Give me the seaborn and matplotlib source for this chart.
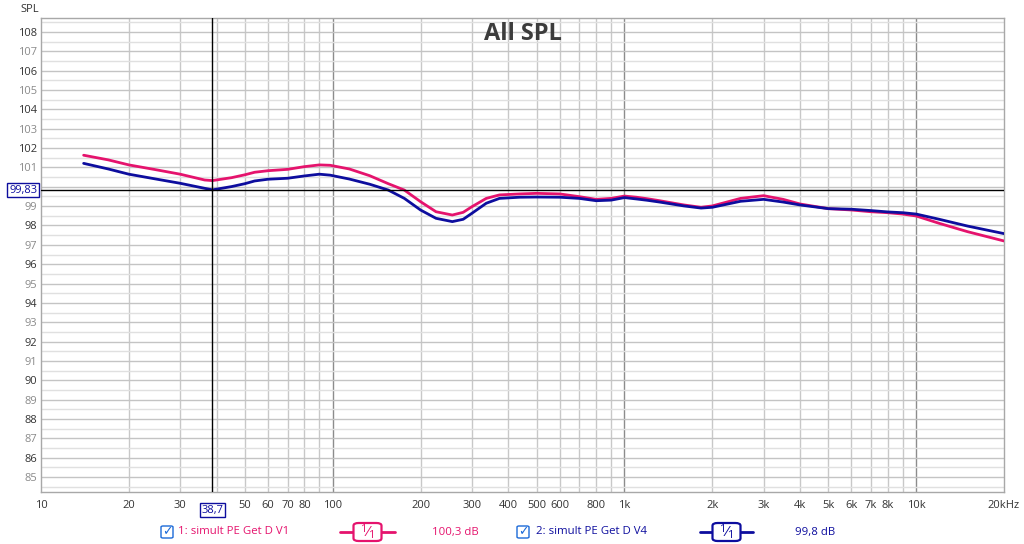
import numpy as np
import pandas as pd
import seaborn as sns
import matplotlib.pyplot as plt
from matplotlib.patches import FancyBboxPatch
from matplotlib.lines import Line2D

# Frequencies (Hz) and SPL readings (dB) for both measurements
freq = [14, 17, 20, 25, 30, 36.4, 38.7, 45, 50, 54, 60, 70, 80, 90, 98, 114, 134,
        155, 176, 200, 226, 257, 280, 300, 336, 373, 437, 500, 600, 700, 800, 900,
        1000, 1100, 1200, 1320, 1600, 1830, 2000, 2500, 3000, 3500, 4000, 5000,
        6000, 7000, 8000, 9000, 10000, 12000, 15000, 20000]
spl_v1 = [101.63, 101.39, 101.13, 100.87, 100.65, 100.35, 100.32, 100.47, 100.62,
          100.75, 100.83, 100.90, 101.04, 101.13, 101.11, 100.92, 100.57, 100.16,
          99.83, 99.23, 98.71, 98.54, 98.68, 98.97, 99.40, 99.58, 99.63, 99.66,
          99.63, 99.49, 99.35, 99.40, 99.52, 99.46, 99.38, 99.28, 99.06, 98.94,
          99.01, 99.40, 99.54, 99.35, 99.11, 98.87, 98.80, 98.71, 98.66, 98.59,
          98.49, 98.11, 97.68, 97.20]
spl_v4 = [101.21, 100.92, 100.65, 100.39, 100.18, 99.92, 99.84, 100.01, 100.16,
          100.30, 100.39, 100.44, 100.56, 100.65, 100.60, 100.40, 100.13, 99.83,
          99.40, 98.80, 98.37, 98.20, 98.32, 98.63, 99.15, 99.40, 99.46, 99.47,
          99.46, 99.40, 99.28, 99.31, 99.44, 99.37, 99.30, 99.21, 99.01, 98.90,
          98.94, 99.25, 99.35, 99.21, 99.06, 98.87, 98.84, 98.77, 98.70, 98.66,
          98.59, 98.32, 97.97, 97.58]

series_names = ["1: simult PE Get D V1", "2: simult PE Get D V4"]
series_levels = ["100,3 dB", "99,8 dB"]
colors = ["#e5136d", "#0d0d9e"]

x_ticks = [10, 20, 30, 50, 60, 70, 80, 100, 200, 300, 400, 500, 600, 800,
           1000, 2000, 3000, 4000, 5000, 6000, 7000, 8000, 10000, 20000]
x_labels = ["10", "20", "30", "50", "60", "70", "80", "100", "200", "300", "400",
            "500", "600", "800", "1k", "2k", "3k", "4k", "5k", "6k", "7k", "8k",
            "10k", "20kHz"]
# 100 dB is covered by the cursor readout
y_ticks = [v for v in range(85, 109) if v != 100]

cursor_f = 38.7
cursor_spl = 99.83

df = pd.DataFrame({
    "freq": freq * 2,
    "spl": spl_v1 + spl_v4,
    "series": [series_names[0]] * len(freq) + [series_names[1]] * len(freq),
})

sns.set_style("white")
plt.rcParams["font.family"] = ["Open Sans", "DejaVu Sans"]

fig = plt.figure(figsize=(10.24, 5.44), dpi=100)
ax = fig.add_axes([41 / 1024, 52 / 544, 963 / 1024, 474 / 544])

ax.set_xscale("log")
ax.set_xlim(10, 20000)
ax.set_ylim(84.23, 108.72)

# grid lines
for d in [10, 100, 1000, 10000]:
    for m in range(1, 10):
        f = d * m
        if f <= 10 or f >= 20000:
            continue
        c = "#8c8c8c" if m == 1 else "#c8c8c8"
        ax.axvline(f, color=c, lw=1, zorder=1)
for v in np.arange(84.5, 108.6, 0.5):
    c = "#c4c4c4" if v == int(v) else "#e0e0e0"
    ax.axhline(v, color=c, lw=1, zorder=1)

sns.lineplot(data=df, x="freq", y="spl", hue="series", palette=colors,
             linewidth=2, legend=False, ax=ax, zorder=3)

# cursor
ax.axvline(cursor_f, color="black", lw=1, zorder=4)
ax.axhline(cursor_spl, color="black", lw=1, zorder=4)

for s in ax.spines.values():
    s.set_color("#a8a8a8")
    s.set_linewidth(1)

ax.set_xlabel("")
ax.set_ylabel("")
ax.set_xticks(x_ticks)
ax.set_xticklabels(x_labels)
ax.minorticks_off()
ax.set_yticks(y_ticks)
ax.set_yticklabels([str(v) for v in y_ticks])
ax.tick_params(axis="both", length=0, labelsize=8)
ax.tick_params(axis="x", pad=6, labelcolor="#333333")
ax.tick_params(axis="y", pad=3)
for lab, v in zip(ax.get_yticklabels(), y_ticks):
    lab.set_color("#333333" if v % 2 == 0 else "#8a8a8a")

# cursor labels
ax.text(cursor_f, -0.027, "38,7", transform=ax.get_xaxis_transform(),
        ha="center", va="top", fontsize=8, color="#0d0d9e",
        bbox=dict(boxstyle="square,pad=0.15", fc="white", ec="#0d0d9e", lw=1))
ax.text(-0.004, cursor_spl, "99,83", transform=ax.get_yaxis_transform(),
        ha="right", va="center", fontsize=8, color="#0d0d9e",
        bbox=dict(boxstyle="square,pad=0.15", fc="white", ec="#0d0d9e", lw=1))

fig.text(20 / 1024, 1 - 9 / 544, "SPL", fontsize=8, color="#333333",
         ha="left", va="center")
ax.set_title("All SPL", fontsize=17, fontweight="bold", color="#3c3c3c",
             y=0.975, va="top")

# legend row along the bottom
ly = 1 - 532 / 544
def px(x):
    return x / 1024

for name, lvl, col, cb_x, tx, sym, lv_x in [
        (series_names[0], series_levels[0], colors[0], 161, 178, (340, 395), 432),
        (series_names[1], series_levels[1], colors[1], 517, 536, (700, 753), 795)]:
    fig.patches.append(FancyBboxPatch((px(cb_x), ly - 6 / 544), 12 / 1024, 12 / 544,
                                      boxstyle="round,pad=0,rounding_size=0.002",
                                      transform=fig.transFigure, fc="white",
                                      ec="#1c6ad8", lw=1))
    fig.text(px(cb_x + 6), ly, "\u2713", fontsize=9, color="#1c6ad8",
             ha="center", va="center", family="DejaVu Sans")
    fig.text(px(tx), ly, name, fontsize=8.2, color=col, ha="left", va="center")
    x0, x1 = sym
    fig.lines.append(Line2D([px(x0), px(x1)], [ly, ly], color=col, lw=2,
                            transform=fig.transFigure))
    xm = (x0 + x1) / 2
    fig.patches.append(FancyBboxPatch((px(xm - 14), ly - 9 / 544), 28 / 1024, 18 / 544,
                                      boxstyle="round,pad=0,rounding_size=0.005",
                                      transform=fig.transFigure, fc="white",
                                      ec=col, lw=1.6, zorder=3))
    fig.text(px(xm - 4), ly + 2 / 544, "1", fontsize=8, color=col,
             ha="center", va="center", zorder=4)
    fig.text(px(xm), ly, "\u2044", fontsize=10, color=col, family="DejaVu Sans",
             ha="center", va="center", zorder=4)
    fig.text(px(xm + 4), ly - 3 / 544, "1", fontsize=8, color=col,
             ha="center", va="center", zorder=4)
    fig.text(px(lv_x), ly, lvl, fontsize=8.2, color=col, ha="left", va="center")

fig.savefig("out.png", dpi=100)
